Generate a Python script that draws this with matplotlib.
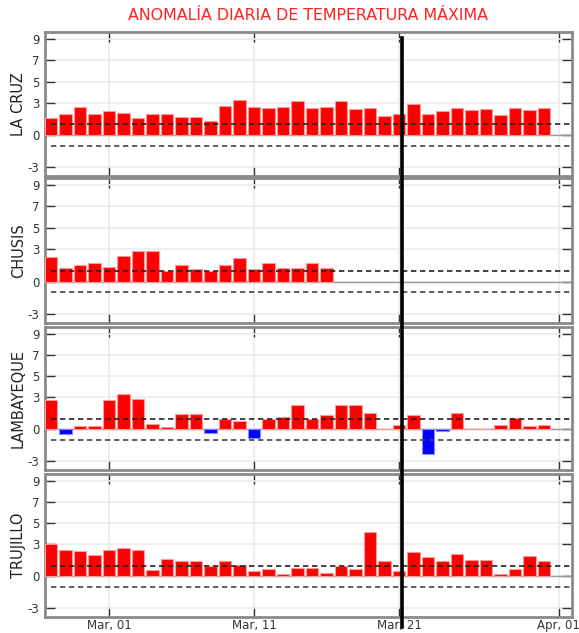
import numpy as np
import matplotlib
matplotlib.use("Agg")
import matplotlib.pyplot as plt
import matplotlib.dates as mdates
from matplotlib.lines import Line2D
import datetime as dt

# ---- data ----
start_date = dt.date(2023, 2, 25)
stations = ["LA CRUZ", "CHUSIS", "LAMBAYEQUE", "TRUJILLO"]
la_cruz = [1.56, 1.97, 2.66, 1.97, 2.25, 2.06, 1.56, 1.97, 1.97, 1.69,
           1.69, 1.35, 2.75, 3.28, 2.66, 2.56, 2.66, 3.16, 2.56, 2.66,
           3.16, 2.47, 2.56, 1.75, 1.97, 2.94, 1.97, 2.25, 2.56, 2.34,
           2.47, 1.84, 2.56, 2.34, 2.56]
chusis = [2.28, 1.28, 1.59, 1.72, 1.41, 2.41, 2.81, 2.81, 1.0, 1.59,
          1.22, 1.0, 1.59, 2.22, 1.22, 1.72, 1.31, 1.31, 1.72, 1.31]
lambayeque = [2.74, -0.44, 0.32, 0.32, 2.74, 3.31, 2.84, 0.5, 0.22, 1.42,
              1.42, -0.32, 1.0, 0.82, -0.82, 1.0, 1.2, 2.24, 1.0, 1.32,
              2.33, 2.33, 1.51, 0.03, 0.41, 1.32, -2.33, -0.15, 1.51, 0.02,
              0.02, 0.41, 1.1, 0.32, 0.41]
trujillo = [3.0, 2.5, 2.41, 2.03, 2.5, 2.63, 2.5, 0.63, 1.63, 1.44,
            1.44, 0.94, 1.44, 1.03, 0.53, 0.72, 0.22, 0.81, 0.81, 0.34,
            0.94, 0.72, 4.19, 1.44, 0.53, 2.31, 1.81, 1.44, 2.13, 1.53,
            1.53, 0.25, 0.72, 1.94, 1.44]
series = [la_cruz, chusis, lambayeque, trujillo]
yticks = [-3, 0, 3, 5, 7, 9]
threshold = 1.0
xtick_dates = [dt.date(2023, 3, 1), dt.date(2023, 3, 11), dt.date(2023, 3, 21), dt.date(2023, 4, 1)]
today_mark = dt.datetime(2023, 3, 21, 5)
title = "ANOMALÍA DIARIA DE TEMPERATURA MÁXIMA"

# ---- figure ----
W, H = 579, 633
fig = plt.figure(figsize=(W / 100, H / 100), dpi=100)

tops = [32, 178, 327, 474]
bots = [176, 323, 470, 617]
left_px, right_px = 45, 572

x0 = mdates.date2num(dt.datetime(2023, 3, 1)) - 4.41
x1 = mdates.date2num(dt.datetime(2023, 3, 1)) + 31.93
line_start = mdates.date2num(start_date)

axes = []
for i, (name, vals) in enumerate(zip(stations, series)):
    ax = fig.add_axes([left_px / W, 1 - bots[i] / H, (right_px - left_px) / W, (bots[i] - tops[i]) / H])
    axes.append(ax)
    dates = [mdates.date2num(start_date + dt.timedelta(days=k)) for k in range(len(vals))]
    vals = np.array(vals)
    colors = ["#ff0000" if v >= 0 else "#0000ff" for v in vals]
    edges = ["#ff9a9a" if v >= 0 else "#8c8cff" for v in vals]
    ax.bar(dates, vals, width=0.86, color=colors, edgecolor=edges, linewidth=0.8, zorder=3)
    ax.axhline(0, color="#9a9a9a", lw=1.0, zorder=2)
    ax.hlines([threshold], line_start, x1, colors="#222222", linestyles=(0, (3.2, 2.2)), lw=1.2, zorder=4)
    ax.hlines([-threshold], line_start, x1, colors="#444444", linestyles=(0, (3.2, 2.2)), lw=1.2, zorder=4)
    ax.set_xlim(x0, x1)
    ax.set_ylim(-3.85, 9.65)
    ax.set_yticks(yticks)
    ax.set_yticklabels([str(t) for t in yticks])
    ax.set_xticks([mdates.date2num(d) for d in xtick_dates])
    ax.xaxis.set_major_formatter(mdates.DateFormatter("%b, %d"))
    ax.grid(True, color="#ebebeb", lw=1.2, zorder=0)
    ax.set_axisbelow(True)
    ax.tick_params(direction="in", length=7, width=1.0, color="#333333",
                   labelsize=8.5, labelcolor="#333333", top=True, right=True)
    ax.tick_params(axis="x", pad=1.5)
    ax.tick_params(axis="y", pad=4)
    if i < 3:
        ax.tick_params(labelbottom=False)
    for s in ax.spines.values():
        s.set_color("#8a8a8a")
        s.set_linewidth(2.0)
    ax.set_ylabel(name, fontsize=10.5, color="#222222")
    ax.yaxis.set_label_coords(-19 / (right_px - left_px), 0.5)

fig.text(308.5 / W, 1 - 16 / H, title, color="#ff2020", fontsize=11.4,
         ha="center", va="center")

# vertical marker line across panels
ax0 = axes[0]
xd = ax0.transData.transform((mdates.date2num(today_mark), 0))[0]
xf = xd / W
fig.add_artist(Line2D([xf, xf], [1 - 38 / H, 1 - 627 / H], transform=fig.transFigure,
                      color="black", lw=2.6, zorder=10))

fig.savefig("out.png", dpi=100)
